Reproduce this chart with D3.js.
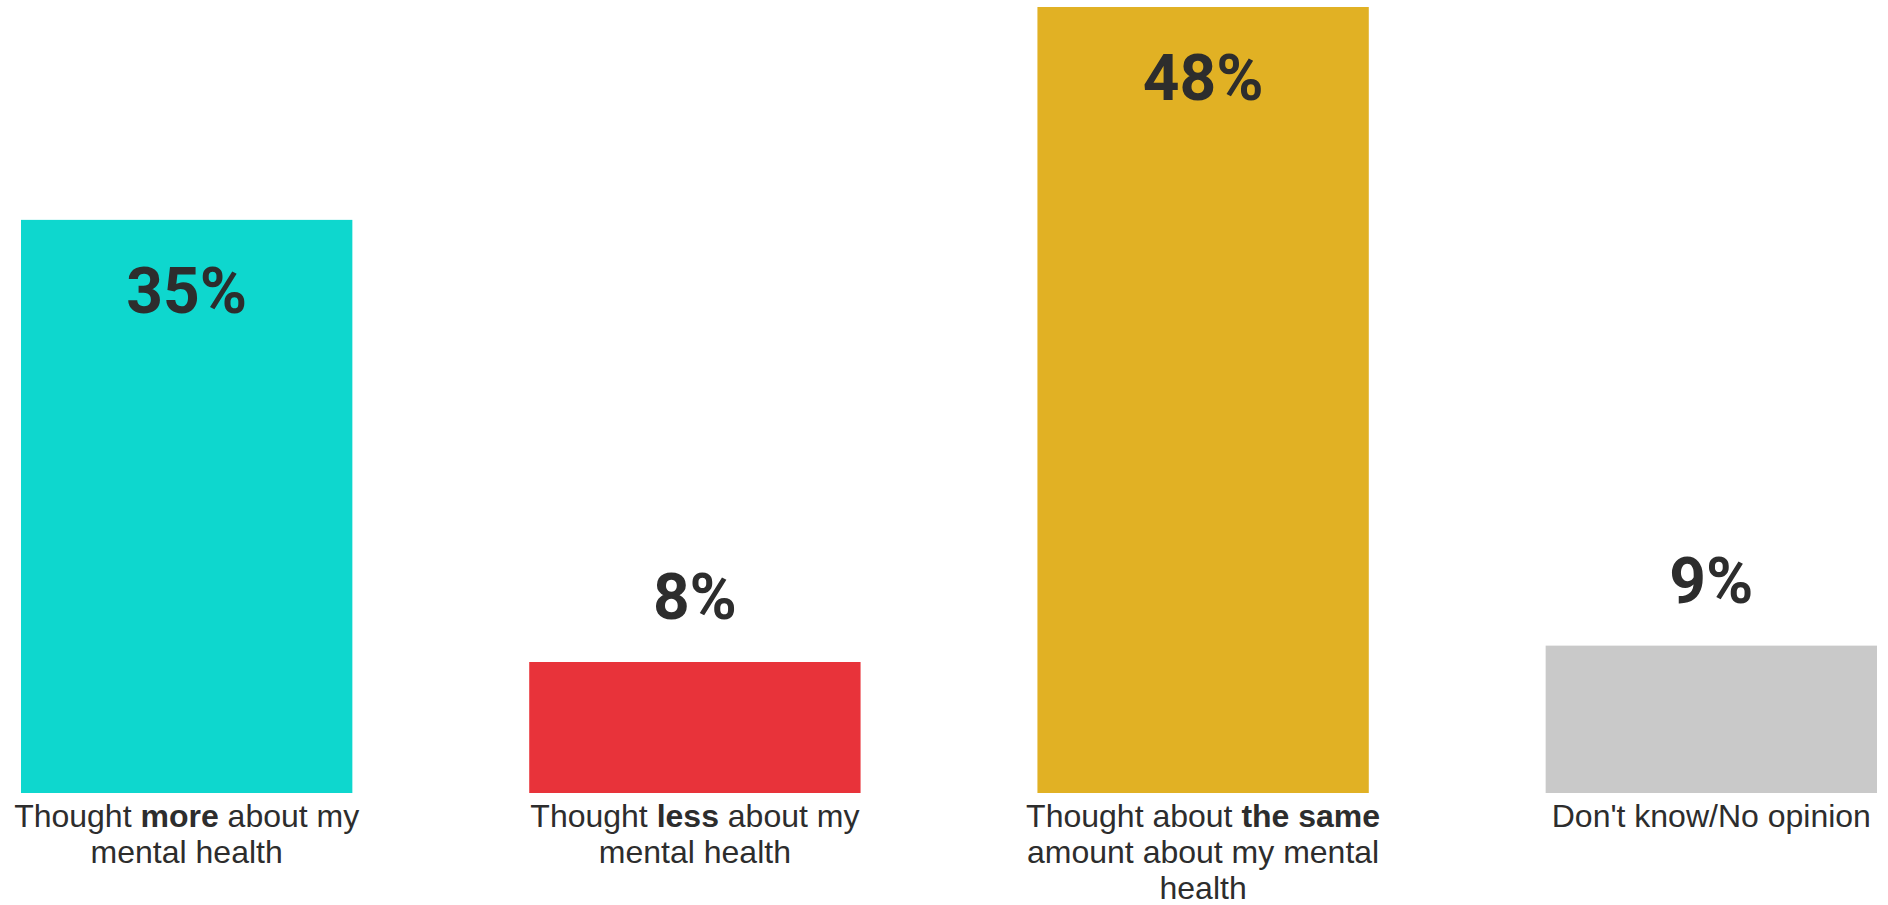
<!DOCTYPE html>
<html>
<head>
<meta charset="utf-8">
<script src="https://cdn.jsdelivr.net/npm/d3@7"></script>
<style>
  html, body { margin: 0; padding: 0; background: #fff; }
  svg { display: block; }
</style>
</head>
<body>
<svg id="chart" width="1888" height="905"></svg>
<script>
// ---- data ----
const categories = ["more", "less", "same", "dk"];
const values = [35, 8, 48, 9];
const colors = ["#0ED7CE", "#E8333A", "#E1B124", "#C9C9C9"];
// label lines; segments wrapped in ** are bold
const labelLines = [
  ["Thought **more** about my", "mental health"],
  ["Thought **less** about my", "mental health"],
  ["Thought about **the same**", "amount about my mental", "health"],
  ["Don't know/No opinion"]
];
const valueLabels = values.map(v => v + "%");

// ---- layout ----
const svg = d3.select("#chart");
const baseY = 793;

const x = d3.scaleBand()
  .domain(categories)
  .range([21, 1877])
  .paddingInner(0.348)
  .paddingOuter(0);

const y = d3.scaleLinear()
  .domain([0, 48])
  .range([baseY, 7]);

const textColor = "#2d2d2d";

// bars
svg.selectAll("rect.bar")
  .data(values)
  .join("rect")
  .attr("class", "bar")
  .attr("x", (d, i) => x(categories[i]))
  .attr("width", x.bandwidth())
  .attr("y", d => y(d))
  .attr("height", d => y(0) - y(d))
  .attr("fill", (d, i) => colors[i]);

// value labels
svg.selectAll("text.val")
  .data(values)
  .join("text")
  .attr("class", "val")
  .attr("x", (d, i) => x(categories[i]) + x.bandwidth() / 2)
  .attr("y", d => (y(0) - y(d)) > 300 ? y(d) + 93 : y(d) - 43)
  .attr("text-anchor", "middle")
  .attr("font-family", "Roboto, 'Liberation Sans', Arial, sans-serif")
  .attr("font-weight", 700)
  .attr("font-size", 64)
  .attr("fill", textColor)
  .text((d, i) => valueLabels[i]);

// category labels
const lineHeight = 36;
labelLines.forEach((lines, i) => {
  const cx = x(categories[i]) + x.bandwidth() / 2;
  const t = svg.append("text")
    .attr("x", cx)
    .attr("y", baseY + 34)
    .attr("text-anchor", "middle")
    .attr("font-family", "'Liberation Sans', Arial, sans-serif")
    .attr("font-size", 32)
    .attr("fill", textColor);
  lines.forEach((line, li) => {
    const parts = line.split("**");
    parts.forEach((p, pi) => {
      if (p === "") return;
      const ts = t.append("tspan").text(p);
      if (pi % 2 === 1) ts.attr("font-weight", 700);
      if (pi === 0 || (pi === 1 && parts[0] === "")) {
        ts.attr("x", cx).attr("dy", li === 0 ? 0 : lineHeight);
      }
    });
  });
});
</script>
</body>
</html>
